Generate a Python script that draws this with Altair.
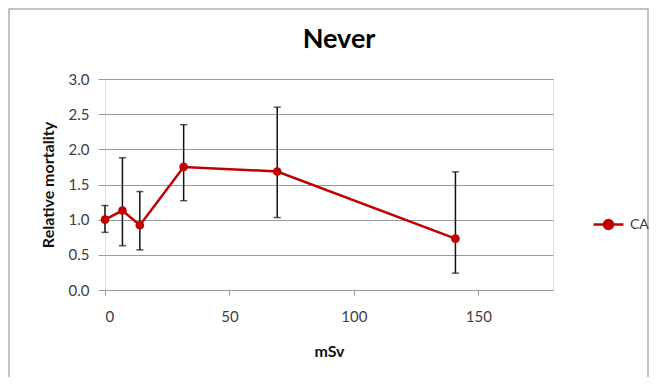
import altair as alt
import pandas as pd

dose = [0, 7, 14, 31.6, 69.2, 140.8]
rel = [1.00, 1.13, 0.92, 1.75, 1.685, 0.73]
lo = [0.82, 0.63, 0.57, 1.27, 1.03, 0.24]
hi = [1.20, 1.88, 1.40, 2.35, 2.60, 1.68]
series = ["CA"] * len(dose)
x_ticks = [0, 50, 100, 150]
y_ticks = [0, 0.5, 1, 1.5, 2, 2.5, 3]

df = pd.DataFrame({"mSv": dose, "rel": rel, "lo": lo, "hi": hi, "series": series})

FONT = "Lato"
RED = "#C00000"
W, H = 448, 211

xs = alt.Scale(domain=[0, 180], nice=False, zero=True)
ys = alt.Scale(domain=[0, 3], nice=False)

base = alt.Chart(df)

xax = alt.Axis(values=x_ticks, grid=False, domain=True, domainColor="#9a9a9a",
               ticks=True, tickColor="#9a9a9a", tickSize=5, labelPadding=14,
               labelFontSize=15, labelColor="#404040", labelFont=FONT, labelOverlap=False,
               title="mSv", titleFont=FONT, titleFontSize=16, titleFontWeight="bold",
               titleColor="#111", titlePadding=19)
yax = alt.Axis(values=y_ticks, format=".1f", grid=True, gridColor="#9a9a9a",
               gridWidth=1, domain=False, ticks=True, tickColor="#9a9a9a", tickSize=7,
               labelPadding=9, labelFontSize=15, labelColor="#404040", labelFont=FONT,
               labelOverlap=False,
               title="Relative mortality", titleFont=FONT, titleFontSize=16,
               titleFontWeight="bold", titleColor="#111", titlePadding=12)

X = alt.X("mSv:Q", scale=xs, axis=xax)

frame = alt.Chart(pd.DataFrame({"a": [0]})).mark_rect(
    fill=None, stroke="#b0b0b0", strokeWidth=1.5
).encode(x=alt.value(-96), x2=alt.value(W + 95), y=alt.value(-70), y2=alt.value(400))

rules = base.mark_rule(color="#111", strokeWidth=1.5).encode(
    x=X, y=alt.Y("lo:Q", scale=ys, axis=yax), y2="hi:Q")
caps_hi = base.mark_tick(color="#111", thickness=1.5, size=7, orient="horizontal").encode(
    x=X, y=alt.Y("hi:Q", scale=ys, axis=yax))
caps_lo = base.mark_tick(color="#111", thickness=1.5, size=7, orient="horizontal").encode(
    x=X, y=alt.Y("lo:Q", scale=ys, axis=yax))

legend_path = "M-1,0H1M-0.3,0A0.3,0.3,0,1,0,0.3,0A0.3,0.3,0,1,0,-0.3,0Z"
color = alt.Color("series:N", scale=alt.Scale(range=[RED]),
                  legend=alt.Legend(title=None, orient="none", legendX=487, legendY=129,
                                    symbolType=legend_path, symbolSize=900,
                                    symbolStrokeWidth=2.5, symbolFillColor=RED,
                                    symbolStrokeColor=RED, labelFont=FONT,
                                    labelFontSize=14, labelColor="#404040", labelOffset=5))

line = base.mark_line(strokeWidth=2.5).encode(
    x=X, y=alt.Y("rel:Q", scale=ys, axis=yax), color=color)
pts = base.mark_point(filled=True, size=75, opacity=1).encode(
    x=X, y=alt.Y("rel:Q", scale=ys, axis=yax),
    color=alt.Color("series:N", scale=alt.Scale(range=[RED]), legend=None))

chart = alt.layer(frame, rules, caps_hi, caps_lo, line, pts).properties(
    width=W, height=H,
    title=alt.TitleParams("Never", font=FONT, fontSize=27, fontWeight="bold", color="#000",
                          anchor="middle", frame="group", dx=10, offset=-46),
    autosize=alt.AutoSizeParams(type="none"),
    padding={"left": 97, "top": 71, "right": 96, "bottom": 87},
).configure_view(stroke=None).configure(background="white")

chart.save("out.html", embed_options={"renderer": "svg", "actions": False})
